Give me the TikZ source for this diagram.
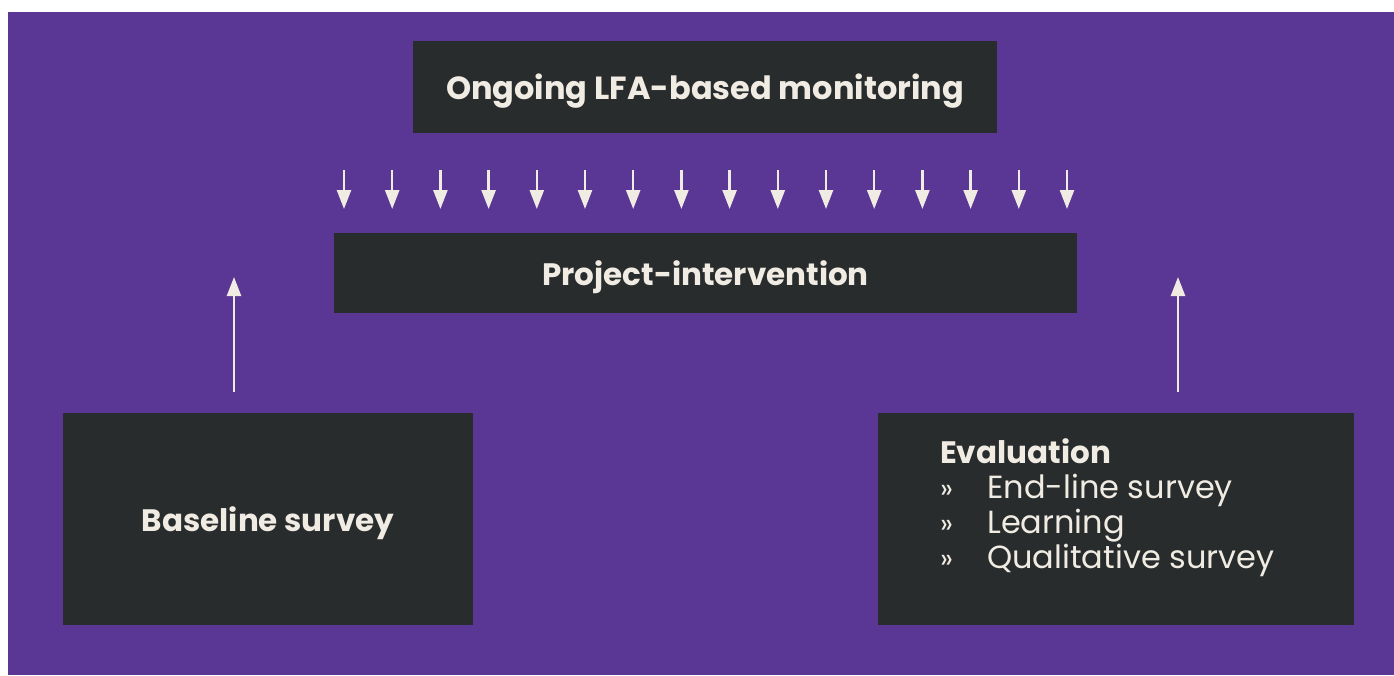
\documentclass[tikz,border=0pt]{standalone}
\usepackage{fontspec}
\setmainfont{Poppins}
\usetikzlibrary{arrows.meta}
\definecolor{bgpurple}{HTML}{5A3794}
\definecolor{boxdark}{HTML}{292C2D}
\definecolor{cream}{HTML}{F0ECE3}
\tikzset{
	darkbox/.style={fill=boxdark, text=cream, inner sep=0pt, text depth=0pt, align=center},
	cuearrow/.style={cream, line width=2.5pt, -{Triangle[length=19pt,width=14pt]}}
}

\begin{document}
\begin{tikzpicture}[x=1pt, y=-1pt]
\useasboundingbox (0,0) rectangle (1394,675);
\fill[bgpurple](8,12) rectangle (1394,675);
% boxes
\node[darkbox, minimum width=584pt, minimum height=92pt, font=\bfseries\fontsize{32}{36}\selectfont] (monitoring) at (705,87) {Ongoing LFA-based monitoring};
\node[darkbox, minimum width=743pt, minimum height=80pt, font=\bfseries\fontsize{31}{36}\selectfont] (project) at (705.5,273) {Project-intervention};
\node[darkbox, minimum width=410pt, minimum height=212pt, font=\bfseries\fontsize{31}{36}\selectfont] (baseline) at (268,519) {Baseline survey};
\node[darkbox, minimum width=476pt, minimum height=212pt] (evaluation) at (1116,519) {};
% evaluation list
\node[anchor=base west, text=cream, inner sep=0pt, font=\bfseries\fontsize{31}{36}\selectfont] (evalhead) at (940,463) {Evaluation};
\foreach \t [count=\i] in {End-line survey, Learning, Qualitative survey}{
	\node[anchor=base west, text=cream, inner sep=0pt, font=\fontsize{28}{32}\selectfont] (bullet\i) at (940,463+35*\i) {»};
	\node[anchor=base west, text=cream, inner sep=0pt, font=\fontsize{32}{36}\selectfont] (item\i) at (987,463+35*\i) {\t};
}
% arrows
\foreach \i in {0,1,...,15}{
	\draw[cuearrow](344+48.2*\i,170)--(344+48.2*\i,209);
}
\coordinate (upleft) at (234,392);
\coordinate (upright) at (1178,392);
\draw[cuearrow](upleft)--(234,277);
\draw[cuearrow](upright)--(1178,277);
\end{tikzpicture}
\end{document}
